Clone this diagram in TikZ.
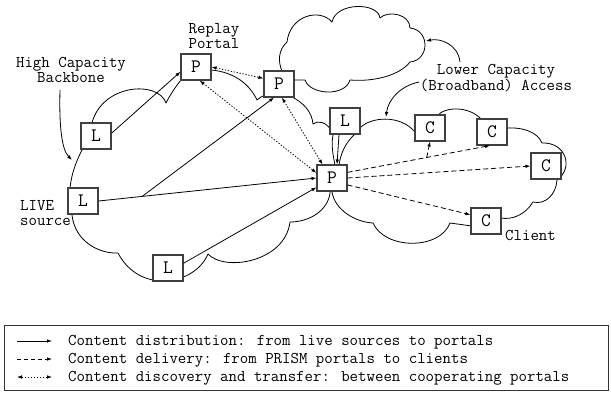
\documentclass[tikz,border=0pt]{standalone}
\usepackage{fontspec}
\usetikzlibrary{arrows.meta,calc}
\begin{document}
\begin{tikzpicture}[x=1pt,y=-1pt,
  lbl/.style={font=\ttfamily\fontsize{16.4}{15}\selectfont, inner sep=0pt, align=center},
  ebox/.style={draw=black!75, line width=1.1pt, fill=white, minimum width=30pt, minimum height=26pt, inner sep=0pt, font=\ttfamily\fontsize{19}{19}\selectfont},
  cloudline/.style={line width=0.8pt, line join=round},
  arrowtip/.style={-{Latex[length=5pt,width=3.6pt]}},
  dist/.style={line width=0.8pt, arrowtip},
  deliv/.style={line width=0.8pt, dash pattern=on 5pt off 3pt, arrowtip},
  disc/.style={line width=0.8pt, dash pattern=on 1.3pt off 1.7pt, {Latex[length=5pt,width=3.6pt]}-{Latex[length=5pt,width=3.6pt]}},
  lead/.style={line width=0.8pt, arrowtip}
]
\useasboundingbox (0,0) rectangle (611,392);

% backbone cloud
\draw[cloudline] (92,123) .. controls (102,84) and (158,80) .. (166,103)
 .. controls (170,95) and (176,86) .. (181,80)
 -- (211,70)
 .. controls (235,72) and (250,85) .. (257,100)
 .. controls (259,98) and (262,96) .. (266,95)
 -- (290,96)
 .. controls (305,103) and (312,113) .. (313,124)
 .. controls (318,120) and (326,122) .. (331,130)
 -- (333,135)
 .. controls (331,145) and (333,155) .. (335,165)
 -- (330,193)
 .. controls (328,210) and (310,222) .. (290,222)
 .. controls (285,262) and (225,272) .. (208,254)
 .. controls (195,285) and (140,295) .. (118,253)
 .. controls (100,254) and (75,242) .. (72,215)
 -- (70,188)
 .. controls (72,170) and (78,158) .. (82,150)
 -- cycle;

% access cloud
\draw[cloudline] (360,128) .. controls (370,117) and (400,114) .. (415,132)
 -- (437,116)
 .. controls (445,106) and (470,106) .. (482,120)
 -- (506,128)
 .. controls (525,127) and (538,133) .. (542,143)
 .. controls (566,142) and (574,168) .. (557,180)
 .. controls (556,195) and (545,205) .. (533,202)
 .. controls (525,215) and (512,220) .. (501,218)
 -- (472,226)
 -- (450,223)
 .. controls (440,250) and (385,250) .. (373,223)
 .. controls (355,222) and (335,210) .. (332,192)
 -- (339,166)
 .. controls (340,155) and (345,143) .. (355,134)
 -- cycle;

% upper cloud
\draw[cloudline] (295,80) -- (305,80)
 .. controls (310,95) and (345,97) .. (350,80)
 .. controls (375,82) and (400,75) .. (410,62)
 .. controls (430,60) and (430,30) .. (410,28)
 .. controls (410,14) and (388,10) .. (380,18)
 .. controls (378,2) and (336,2) .. (332,22)
 .. controls (320,8) and (290,15) .. (287,42)
 .. controls (278,50) and (278,62) .. (282,71)
 -- cycle;

% boxes
\node[ebox] (P1) at (196,67) {P};
\node[ebox] (P2) at (279,84) {P};
\node[ebox] (L1) at (96,136) {L};
\node[ebox] (L2) at (83,201) {L};
\node[ebox] (L3) at (168,268) {L};
\node[ebox] (L4) at (345,121) {L};
\node[ebox] (Pc) at (332,178) {P};
\node[ebox] (C1) at (430,128) {C};
\node[ebox] (C2) at (492,132) {C};
\node[ebox] (C3) at (546,166) {C};
\node[ebox] (C4) at (486,221) {C};

% content distribution
\draw[dist] (L1.10) -- (P1.197);
\draw[dist] (L2.east) -- (Pc.west);
\coordinate (br1) at ($(L2.east)!0.2!(Pc.west)$);
\draw[dist] (br1) -- (P2.250);
\draw[dist] (L3.17) -- (Pc.211);
\draw[dist] ([xshift=-6pt]L4.south) -- ([xshift=5pt]Pc.north);

% content delivery
\coordinate (c2in) at ([xshift=-2pt]C2.south);
\draw[deliv] (Pc.20) -- (c2in);
\coordinate (br2) at ($(Pc.20)!0.556!(c2in)$);
\draw[deliv] (br2) -- (C1.south);
\draw[deliv] (Pc.east) -- (C3.west);
\draw[deliv] (Pc.336) -- (C4.158);

% content discovery
\draw[disc] (P1.east) -- (P2.160);
\draw[disc] (P1.285) -- (Pc.162);
\draw[disc] (P2.282) -- (Pc.125);

% labels
\node[lbl] (rp) at (214,36) {Replay\\Portal};
\node[lbl] (hcb) at (71,70) {High Capacity\\Backbone};
\node[lbl] (lca) at (496,78) {Lower Capacity\\(Broadband) Access};
\node[lbl, align=left, anchor=west] (live) at (20,213) {LIVE\\source};
\node[lbl, anchor=west] (cl) at (505,235) {Client};

% leaders
\coordinate (hs) at (60,90); \coordinate (ht) at (72,160);
\draw[lead] (hs) .. controls (59,128) and (62,150) .. (ht);
\coordinate (ls1) at (460,62); \coordinate (lt1) at (426,41);
\draw[lead] (ls1) .. controls (458,44) and (440,38) .. (lt1);
\coordinate (ls2) at (419,82); \coordinate (lt2) at (386,117);
\draw[lead] (ls2) .. controls (400,86) and (388,100) .. (lt2);

% legend
\draw[line width=0.9pt, draw=black!80] (4,325) rectangle (608,390);
\coordinate (la1) at (17,341); \coordinate (lb1) at (52,341);
\coordinate (la2) at (17,359); \coordinate (lb2) at (52,359);
\coordinate (la3) at (17,377); \coordinate (lb3) at (52,377);
\draw[dist] (la1) -- (lb1);
\draw[deliv, dash pattern=on 4pt off 3pt] (la2) -- (lb2);
\draw[disc] (la3) -- (lb3);
\node[lbl, anchor=base west] (t1) at (68,345.5) {Content distribution: from live sources to portals};
\node[lbl, anchor=base west] (t2) at (68,363.5) {Content delivery: from PRISM portals to clients};
\node[lbl, anchor=base west] (t3) at (68,381.5) {Content discovery and transfer: between cooperating portals};
\end{tikzpicture}
\end{document}
